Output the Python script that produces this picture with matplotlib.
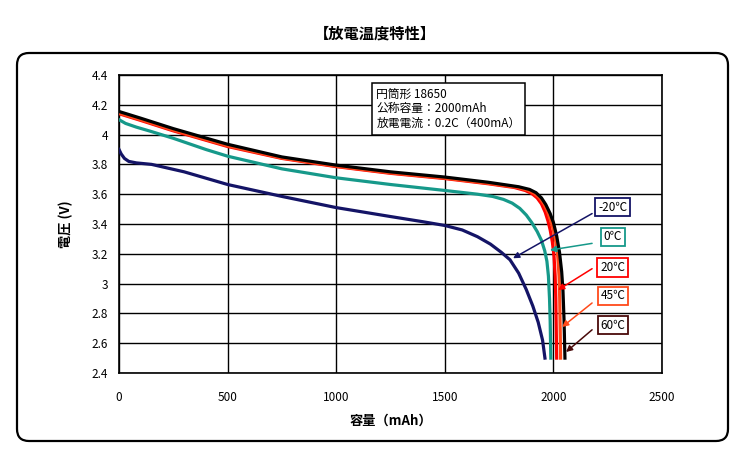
import matplotlib
matplotlib.use('Agg')
import matplotlib.pyplot as plt
from matplotlib.patches import FancyBboxPatch

plt.rcParams['font.family'] = ['Noto Sans CJK JP', 'DejaVu Sans']

# discharge curves: capacity (mAh) vs voltage (V)
cap_m20 = [0, 10, 25, 45, 80, 150, 300, 500, 750, 1000, 1250, 1400, 1500, 1580, 1650,
           1710, 1760, 1800, 1840, 1875, 1905, 1930, 1950, 1961]
v_m20 = [3.90, 3.87, 3.84, 3.82, 3.81, 3.80, 3.75, 3.665, 3.585, 3.51, 3.45, 3.415,
         3.39, 3.36, 3.315, 3.265, 3.21, 3.16, 3.07, 2.96, 2.85, 2.74, 2.62, 2.50]

cap_0 = [0, 30, 80, 150, 250, 400, 500, 750, 1000, 1250, 1500, 1650, 1720, 1770, 1810,
         1845, 1875, 1900, 1925, 1945, 1960, 1970, 1977, 1982, 1985, 1988]
v_0 = [4.10, 4.075, 4.05, 4.02, 3.975, 3.90, 3.855, 3.77, 3.71, 3.665, 3.625, 3.60,
       3.585, 3.565, 3.54, 3.505, 3.46, 3.41, 3.35, 3.29, 3.22, 3.15, 3.05, 2.90,
       2.75, 2.50]

cap_20 = [0, 100, 250, 500, 750, 1000, 1250, 1500, 1700, 1820, 1870, 1900, 1925, 1945,
          1962, 1975, 1985, 1995, 2003, 2008, 2011, 2013, 2015]
v_20 = [4.14, 4.095, 4.025, 3.92, 3.84, 3.785, 3.74, 3.705, 3.67, 3.645, 3.625, 3.605,
        3.575, 3.535, 3.48, 3.42, 3.36, 3.28, 3.18, 3.05, 2.90, 2.70, 2.50]

cap_45 = [0, 100, 250, 500, 750, 1000, 1250, 1500, 1700, 1830, 1880, 1910, 1935, 1956,
          1974, 1988, 2000, 2011, 2020, 2026, 2029, 2031, 2033]
v_45 = [4.145, 4.10, 4.03, 3.925, 3.843, 3.788, 3.743, 3.708, 3.673, 3.647, 3.628,
        3.607, 3.578, 3.535, 3.48, 3.42, 3.36, 3.28, 3.18, 3.05, 2.90, 2.70, 2.50]

cap_60 = [0, 100, 250, 500, 750, 1000, 1250, 1500, 1700, 1840, 1890, 1920, 1945, 1965,
          1985, 2000, 2015, 2028, 2038, 2044, 2049, 2053]
v_60 = [4.155, 4.11, 4.04, 3.935, 3.85, 3.795, 3.75, 3.715, 3.68, 3.65, 3.632, 3.61,
        3.575, 3.53, 3.47, 3.41, 3.32, 3.21, 3.08, 2.95, 2.75, 2.50]

labels = ['-20℃', '0℃', '20℃', '45℃', '60℃']
colors = ['#141466', '#16998a', '#ff0000', '#ff4a1a', '#000000']
edge_colors = ['#141466', '#16998a', '#ff0000', '#ff4a1a', '#4a0a0a']
arrow_colors = ['#141466', '#16998a', '#ff0000', '#ff4a1a', '#4a0a0a']

curves = [(cap_m20, v_m20), (cap_0, v_0), (cap_20, v_20), (cap_45, v_45), (cap_60, v_60)]

# arrow tips on the curves
tip_cap = [1814, 1984, 2021, 2040, 2058]
tip_v = [3.17, 3.225, 2.957, 2.709, 2.541]

fig = plt.figure(figsize=(7.5, 4.55), dpi=100)

# rounded outer frame
frame = FancyBboxPatch((0.17, 0.14), 7.11, 3.88, boxstyle='round,pad=0,rounding_size=0.12',
                       transform=fig.dpi_scale_trans, facecolor='none',
                       edgecolor='black', linewidth=1.6, zorder=0)
fig.patches.append(frame)

fig.text(0.5, 0.927, '【放電温度特性】', ha='center', va='center', fontsize=11,
         fontweight='bold')

ax = fig.add_axes([0.1587, 0.1802, 0.724, 0.655])
ax.set_zorder(2)
for (cx, cv), c in zip(curves, colors):
    ax.plot(cx, cv, color=c, linewidth=2.3, zorder=3, solid_joinstyle='round')

ax.set_xlim(0, 2500)
ax.set_ylim(2.4, 4.4)
ax.set_xticks(range(0, 2501, 500))
ax.set_yticks([2.4, 2.6, 2.8, 3.0, 3.2, 3.4, 3.6, 3.8, 4.0, 4.2, 4.4])
ax.set_yticklabels(['2.4', '2.6', '2.8', '3', '3.2', '3.4', '3.6', '3.8', '4', '4.2', '4.4'])
ax.tick_params(length=0, labelsize=8.5, pad=8)
ax.tick_params(axis='x', pad=13)
ax.grid(True, color='black', linewidth=1.0)
for s in ax.spines.values():
    s.set_linewidth(1.2)

ax.set_xlabel('容量（mAh）', fontsize=9.5, fontweight='bold', labelpad=7)
ax.set_ylabel('電圧 (V)', fontsize=9.5, fontweight='bold', labelpad=13)

ax.text(0.474, 0.957, '円筒形 18650\n公称容量：2000mAh\n放電電流：0.2C（400mA）',
        transform=ax.transAxes, ha='left', va='top', fontsize=8.5, linespacing=1.15,
        bbox=dict(boxstyle='square,pad=0.4', facecolor='white', edgecolor='black',
                  linewidth=1.1), zorder=5)

# labels with arrows
box_y = [3.514, 3.313, 3.111, 2.917, 2.722]
arrow_start_y = [3.47, 3.27, 3.10, 2.87, 2.69]
for i in range(5):
    ax.annotate('', xy=(tip_cap[i], tip_v[i]), xytext=(2178, arrow_start_y[i]),
                arrowprops=dict(arrowstyle='-|>', color=arrow_colors[i], lw=1.1,
                                mutation_scale=9, shrinkA=0, shrinkB=0), zorder=4)
    ax.text(2274, box_y[i], labels[i], ha='center', va='center', fontsize=8.5,
            bbox=dict(boxstyle='square,pad=0.25', facecolor='white',
                      edgecolor=edge_colors[i], linewidth=1.3), zorder=6)

fig.savefig('out.png', dpi=100)
